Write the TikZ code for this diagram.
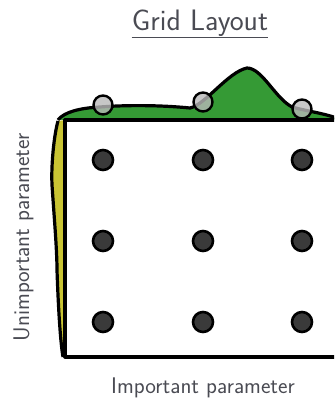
\documentclass[tikz,border=0pt]{standalone}
\usetikzlibrary{calc}
\definecolor{txtgray}{HTML}{4A4B53}
\definecolor{hgreen}{HTML}{359A35}
\definecolor{hyellow}{HTML}{C9C433}
\definecolor{dotgray}{HTML}{3A3A3A}
\begin{document}
\begin{tikzpicture}[x=1pt,y=-1pt,
  lbl/.style={text=txtgray,font=\sffamily\fontsize{22.6}{26}\selectfont,inner sep=0pt},
  gridpt/.style={circle,draw=black,fill=dotgray,line width=2.6pt,minimum size=20pt,inner sep=0pt},
  probe/.style={circle,draw=black,fill=gray!55,fill opacity=0.8,line width=2.4pt,minimum size=19pt,inner sep=0pt},
  edge/.style={line width=3.2pt,line join=round}]
\useasboundingbox (0,0) rectangle (334,398);
\begin{scope}
\clip (0,0) rectangle (334,398);
% green density along top
\fill[hgreen] (58,120) .. controls (64,112) and (80,108) .. (100,107)
  .. controls (125,105) and (160,105) .. (190,108)
  .. controls (205,105) and (228,72) .. (247,68)
  .. controls (262,68) and (275,98) .. (292,107)
  .. controls (310,112) and (325,113) .. (345,121) -- (345,120) -- cycle;
\draw[edge] (58,120) .. controls (64,112) and (80,108) .. (100,107)
  .. controls (125,105) and (160,105) .. (190,108)
  .. controls (205,105) and (228,72) .. (247,68)
  .. controls (262,68) and (275,98) .. (292,107)
  .. controls (310,112) and (325,113) .. (345,121);
% yellow density along left
\fill[hyellow] (65,120) -- (58,121) .. controls (54,135) and (51,165) .. (52,185)
  .. controls (54,215) and (57,250) .. (57,270)
  .. controls (58,300) and (60,340) .. (63,357) -- (65,357) -- cycle;
\draw[edge] (58,121) .. controls (54,135) and (51,165) .. (52,185)
  .. controls (54,215) and (57,250) .. (57,270)
  .. controls (58,300) and (60,340) .. (63,357);
% box
\draw[edge] (345,120) -- (65,120) -- (65,357) -- (345,357);
% grid points
\foreach \i/\x in {1/103,2/203,3/302}{
  \foreach \j/\y in {1/160,2/241,3/322}{
    \node[gridpt] (g\i\j) at (\x,\y) {};
  }
}
\node[probe] (p1) at (103,105) {};
\node[probe] (p2) at (203,102) {};
\node[probe] (p3) at (302,109) {};
\end{scope}
% texts
\node[lbl,font=\sffamily\fontsize{29.6}{32}\selectfont,anchor=base] (title) at (200,31) {Grid Layout};
\draw[txtgray,line width=1.8pt] ([yshift=-6.5pt]title.base west) -- ([yshift=-6.5pt]title.base east);
\node[lbl,anchor=base] (xl) at (203,393) {Important parameter};
\node[lbl,anchor=base,rotate=90] (yl) at (29,237) {Unimportant parameter};
\end{tikzpicture}
\end{document}
